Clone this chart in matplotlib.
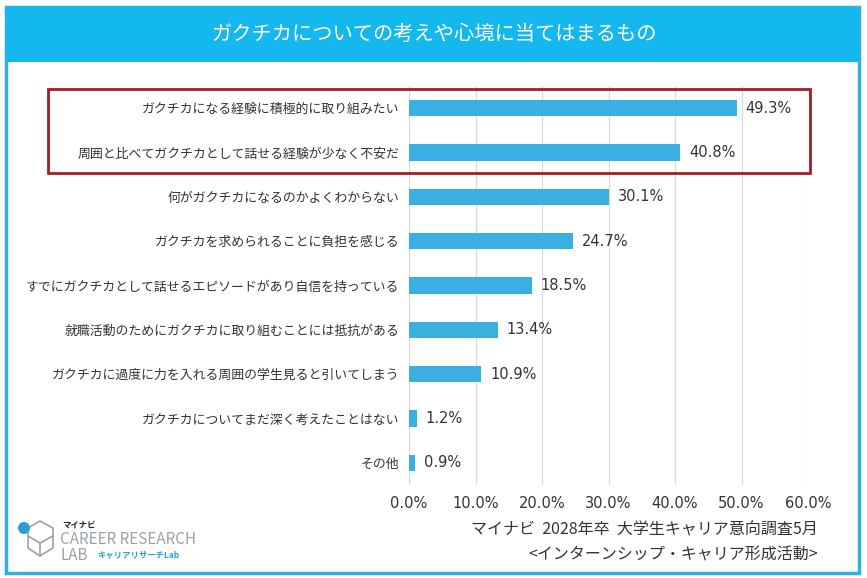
import matplotlib.pyplot as plt
from matplotlib.patches import Rectangle, Ellipse
from matplotlib.lines import Line2D

plt.rcParams["font.family"] = ["Noto Sans CJK JP", "DejaVu Sans"]

# データ
items = [
    "ガクチカになる経験に積極的に取り組みたい",
    "周囲と比べてガクチカとして話せる経験が少なく不安だ",
    "何がガクチカになるのかよくわからない",
    "ガクチカを求められることに負担を感じる",
    "すでにガクチカとして話せるエピソードがあり自信を持っている",
    "就職活動のためにガクチカに取り組むことには抵抗がある",
    "ガクチカに過度に力を入れる周囲の学生見ると引いてしまう",
    "ガクチカについてまだ深く考えたことはない",
    "その他",
]
values = [49.3, 40.8, 30.1, 24.7, 18.5, 13.4, 10.9, 1.2, 0.9]
ticks = [0, 10, 20, 30, 40, 50, 60]

TITLE = "ガクチカについての考えや心境に当てはまるもの"
SOURCE1 = "マイナビ  2028年卒  大学生キャリア意向調査5月"
SOURCE2 = "<インターンシップ・キャリア形成活動>"

BAR = "#3aafe2"
HEAD = "#14b8ee"
FRAME = "#2cb2dc"
TXT = "#333333"
NUMFONT = ["DejaVu Sans"]

W, H = 867, 578
fig = plt.figure(figsize=(W / 100, H / 100), dpi=100)
fig.patch.set_facecolor("white")

# 外枠とヘッダー
fig.patches.append(Rectangle((6 / W, 5 / H), 853 / W, 566 / H, transform=fig.transFigure,
                             fc="none", ec=FRAME, lw=2.5, zorder=0))
fig.patches.append(Rectangle((6 / W, 1 - 62 / H), 853 / W, 55 / H, transform=fig.transFigure,
                             fc=HEAD, ec="none", zorder=1))
fig.text(0.5, 1 - 34 / H, TITLE, ha="center", va="center", color="white", fontsize=14.6)

# 棒グラフ
ax = fig.add_axes([409 / W, 1 - 485 / H, 399 / W, 399 / H])
ax.set_zorder(2)
ax.patch.set_alpha(0)
y = list(range(len(items)))
ax.barh(y, values, height=0.37, color=BAR, zorder=2)
ax.set_ylim(len(items) - 0.5, -0.5)
ax.set_xlim(0, 60)
ax.set_xticks(ticks)
ax.set_xticklabels([f"{t:.1f}%" for t in ticks], fontsize=10.5, color=TXT, family=NUMFONT)
ax.set_yticks(y)
ax.set_yticklabels(items, fontsize=9.3, color=TXT)
ax.tick_params(axis="y", length=0, pad=7)
ax.tick_params(axis="x", length=0, pad=8)
ax.grid(axis="x", color="#d9d9d9", lw=0.9, zorder=0)
for s in ax.spines.values():
    s.set_visible(False)
ax.axvline(0, color="#d9d9d9", lw=0.9, zorder=1)
for yi, v in zip(y, values):
    ax.text(v + 1.3, yi, f"{v:.1f}%", va="center", ha="left", fontsize=10.5, color=TXT,
            family=NUMFONT)

# 赤枠（上位2項目）
fig.patches.append(Rectangle((48 / W, 1 - 173 / H), 762 / W, 84 / H, transform=fig.transFigure,
                             fc="none", ec="#a51c24", lw=2, zorder=5))

# 出典
fig.text(818 / W, 1 - 530 / H, SOURCE1, ha="right", va="center", fontsize=11.5, color=TXT)
fig.text(818 / W, 1 - 555 / H, SOURCE2, ha="right", va="center", fontsize=11.5, color=TXT)

# ロゴ（簡略）
gray = "#9aa3ab"
hx = [(28, 528), (40, 521), (53, 528), (53, 548), (40, 556), (28, 548), (28, 528)]
fig.lines.append(Line2D([p[0] / W for p in hx], [1 - p[1] / H for p in hx],
                        transform=fig.transFigure, color=gray, lw=1.2))
fig.lines.append(Line2D([28 / W, 40 / W, 53 / W], [1 - 536 / H, 1 - 543 / H, 1 - 536 / H],
                        transform=fig.transFigure, color=gray, lw=1.2))
fig.lines.append(Line2D([40 / W, 40 / W], [1 - 543 / H, 1 - 556 / H],
                        transform=fig.transFigure, color=gray, lw=1.2))
fig.patches.append(Ellipse((24 / W, 1 - 528 / H), 12 / W, 12 / H, transform=fig.transFigure,
                           fc="#2a9fd6", ec="none", zorder=3))
fig.text(62 / W, 1 - 525 / H, "マイナビ", fontsize=6, fontweight="bold", color="#222222", va="center")
fig.text(60 / W, 1 - 539 / H, "CAREER RESEARCH", fontsize=11, color=gray, va="center")
fig.text(60 / W, 1 - 555 / H, "LAB", fontsize=11, color=gray, va="center")
fig.text(97 / W, 1 - 555 / H, "キャリアリサーチLab", fontsize=6, fontweight="bold", color="#2a9fd6", va="center")

fig.savefig("out.png", dpi=100)
